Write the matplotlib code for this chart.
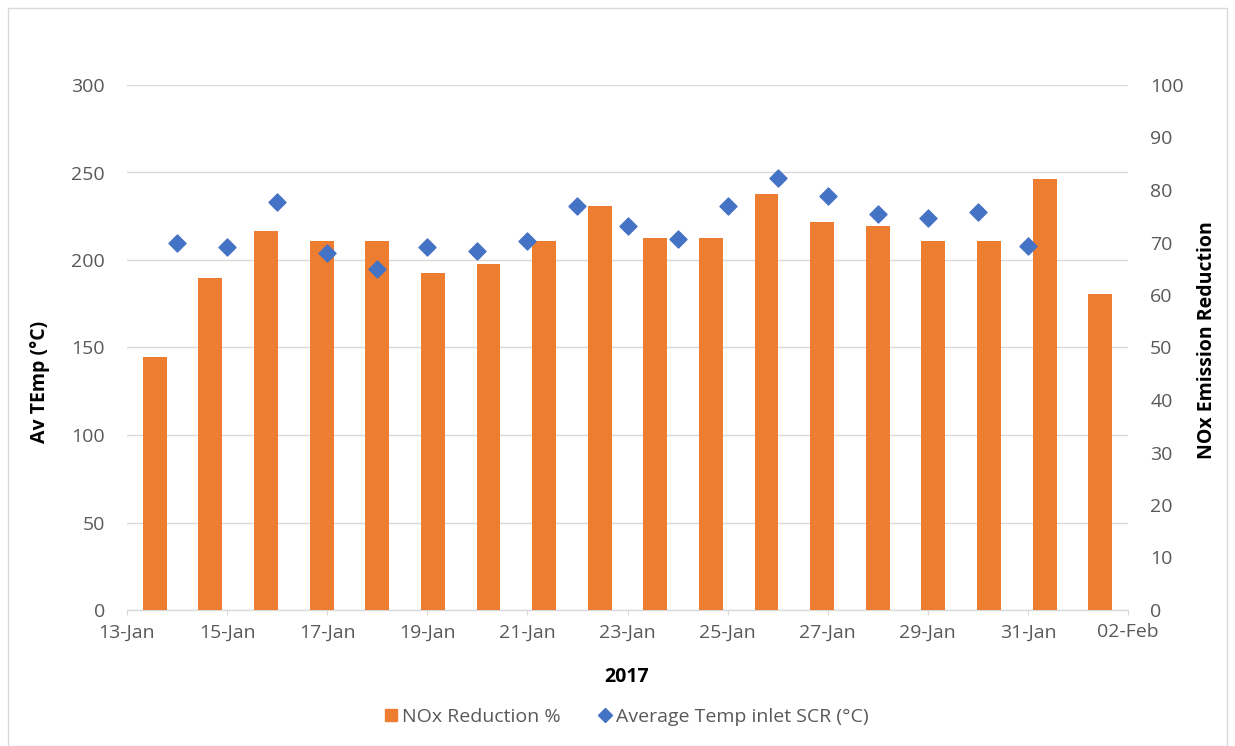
import matplotlib
matplotlib.use("Agg")
import matplotlib.pyplot as plt
import matplotlib.dates as mdates
from matplotlib.lines import Line2D
from matplotlib.patches import Patch, Rectangle
import numpy as np
import datetime as dt

# ---- data ----
bar_categories = [f"C{i+1}" for i in range(18)]
nox_reduction = [48.1, 63.2, 72.1, 70.2, 70.2, 64.2, 66.0, 70.2, 76.9,
                 70.9, 70.9, 79.2, 74.0, 73.2, 70.2, 70.2, 82.1, 60.1]
temp_dates = [dt.date(2017, 1, d) for d in range(14, 32)]
avg_temp = [209.5, 207.2, 233.1, 203.8, 195.0, 207.2, 205.0, 210.9, 230.9,
            219.6, 211.8, 230.9, 246.7, 236.6, 226.3, 224.2, 227.4, 208.2]
xtick_dates = [dt.date(2017, 1, 13) + dt.timedelta(days=2 * i) for i in range(11)]
left_ticks = [0, 50, 100, 150, 200, 250, 300]
right_ticks = list(range(0, 101, 10))

ORANGE = "#ED7D31"
BLUE = "#4472C4"
GRID = "#D9D9D9"
TXT = "#595959"
FONT = "Open Sans"
FS = 14

plt.rcParams["font.family"] = [FONT, "DejaVu Sans"]

W, H = 1235, 746
fig = plt.figure(figsize=(W / 100, H / 100), dpi=100)
x0, x1, y0, y1 = 127, 1128, 85, 610
rect = [x0 / W, 1 - y1 / H, (x1 - x0) / W, (y1 - y0) / H]
pw, ph = x1 - x0, y1 - y0

# main axis: dates + left temperature scale + grid
ax = fig.add_axes(rect)
ax.set_xlim(mdates.date2num(dt.date(2017, 1, 13)), mdates.date2num(dt.date(2017, 2, 2)))
ax.set_ylim(0, 300)
ax.set_yticks(left_ticks)
ax.set_xticks([mdates.date2num(d) for d in xtick_dates])
ax.set_xticklabels([d.strftime("%d-%b") for d in xtick_dates])
ax.yaxis.grid(True, color=GRID, linewidth=1)
ax.set_axisbelow(True)
for s in ["top", "right", "left"]:
    ax.spines[s].set_visible(False)
ax.spines["bottom"].set_color(GRID)
ax.spines["bottom"].set_linewidth(1)
ax.tick_params(axis="y", length=0, labelsize=FS, labelcolor=TXT, pad=16)
ax.tick_params(axis="x", length=3.6, color=GRID, labelsize=FS, labelcolor=TXT, pad=6)
ax.set_ylabel("Av TEmp (°C)", fontsize=FS, fontweight="bold", color="#000000")
ax.yaxis.label.set_verticalalignment("center")
ax.yaxis.label.set_horizontalalignment("center")
ax.yaxis.label.set_rotation_mode("default")
ax.yaxis.set_label_coords((40 - x0) / pw, (y1 - 382) / ph)
ax.set_xlabel("2017", fontsize=FS, fontweight="bold", color="#000000")
ax.xaxis.label.set_verticalalignment("center")
ax.xaxis.set_label_coords((627 - x0) / pw, (y1 - 677) / ph)

# bar axis: category x + right NOx scale
axb = fig.add_axes(rect)
axb.patch.set_visible(False)
xb = np.arange(len(bar_categories))
axb.bar(xb, nox_reduction, width=0.43, color=ORANGE, zorder=2)
axb.set_xlim(-0.5, len(bar_categories) - 0.5)
axb.set_ylim(0, 100)
axb.set_xticks([])
axb.yaxis.tick_right()
axb.yaxis.set_label_position("right")
axb.set_yticks(right_ticks)
for s in axb.spines.values():
    s.set_visible(False)
axb.tick_params(axis="y", length=0, labelsize=FS, labelcolor=TXT, pad=16)
axb.set_ylabel("NOx Emission Reduction", fontsize=FS, fontweight="bold", color="#000000")
axb.yaxis.label.set_verticalalignment("center")
axb.yaxis.label.set_horizontalalignment("center")
axb.yaxis.label.set_rotation_mode("default")
axb.yaxis.set_label_coords((1207 - x0) / pw, (y1 - 340) / ph)

# scatter axis on top, sharing the date/temperature scales
axs = fig.add_axes(rect, sharex=ax, sharey=ax)
axs.patch.set_visible(False)
axs.axis("off")
axs.scatter([mdates.date2num(d) for d in temp_dates], avg_temp, marker="D", s=75,
            color=BLUE, edgecolor=BLUE, zorder=3)

# legend
handles = [Patch(facecolor=ORANGE, edgecolor=ORANGE, label="NOx Reduction %"),
           Line2D([], [], marker="D", linestyle="none", color=BLUE, markersize=7,
                  label="Average Temp inlet SCR (°C)")]
fig.legend(handles=handles, loc="center", bbox_to_anchor=(627 / W, 1 - 717 / H),
           ncol=2, frameon=False, fontsize=FS, labelcolor=TXT, handlelength=0.6,
           handleheight=0.6, handletextpad=0.25, columnspacing=2.0)

# outer chart border
fig.patches.append(Rectangle((8 / W, 0.0), 1 - 16 / W, 1 - 8 / H, transform=fig.transFigure,
                             fill=False, edgecolor="#D9D9D9", linewidth=1))

fig.savefig("out.png", dpi=100, facecolor="white")
